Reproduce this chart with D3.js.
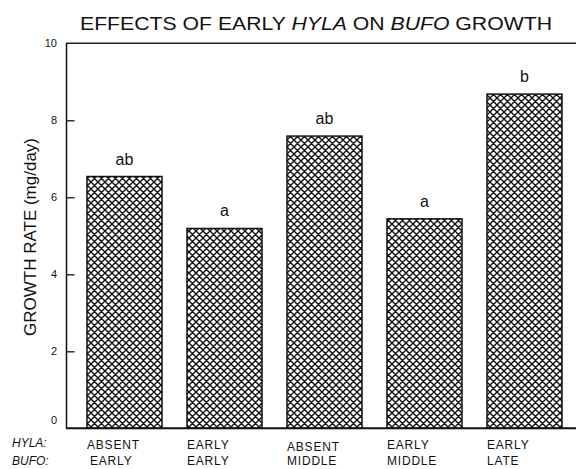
<!DOCTYPE html>
<html><head><meta charset="utf-8">
<script src="https://cdn.jsdelivr.net/npm/d3@7"></script>
<style>
body{margin:0;background:#fff;}
svg{display:block;}
text{font-family:"Liberation Sans",Arial,sans-serif;fill:#111;}
</style></head>
<body><svg id="c" width="576" height="469"></svg>
<script>
const hyla = ["ABSENT","EARLY","ABSENT","EARLY","EARLY"];
const bufo = ["EARLY","EARLY","MIDDLE","MIDDLE","LATE"];
const growth = [6.54, 5.19, 7.59, 5.44, 8.68];
const letters = ["ab","a","ab","a","b"];
const yTicks = [0,2,4,6,8,10];
const idx = d3.range(growth.length);

const svg = d3.select("#c");
const x = d3.scaleBand().domain(idx).range([74.5, 574.5]).paddingInner(0.25).paddingOuter(0.125);
const y = d3.scaleLinear().domain([0,10]).range([428.3, 43.3]);

const defs = svg.append("defs");
const pat = defs.append("pattern").attr("id","hatch").attr("patternUnits","userSpaceOnUse")
  .attr("width",7).attr("height",7);
pat.append("rect").attr("width",7).attr("height",7).attr("fill","#fff");
pat.append("path").attr("d","M0,0L7,7M7,0L0,7M-1,6L1,8M6,-1L8,1M-1,1L1,-1M6,8L8,6")
  .attr("stroke","#111").attr("stroke-width",1.4);

// title
const t = svg.append("text").attr("x",316).attr("y",30).attr("text-anchor","middle")
  .attr("font-size",18).attr("textLength",472).attr("lengthAdjust","spacingAndGlyphs");
t.append("tspan").text("EFFECTS OF EARLY ");
t.append("tspan").attr("font-style","italic").text("HYLA");
t.append("tspan").text(" ON  ");
t.append("tspan").attr("font-style","italic").text("BUFO");
t.append("tspan").text(" GROWTH");

// bars
svg.selectAll("rect.bar").data(idx).join("rect").attr("class","bar")
  .attr("x",i=>x(i)).attr("width",x.bandwidth())
  .attr("y",i=>y(growth[i])).attr("height",i=>y(0)-y(growth[i]))
  .attr("fill","url(#hatch)").attr("stroke","#111").attr("stroke-width",1.5);

// letters
svg.selectAll("text.let").data(idx).join("text").attr("class","let")
  .attr("x",i=>x(i)+x.bandwidth()/2).attr("y",i=>y(growth[i])-12)
  .attr("text-anchor","middle").attr("font-size",16).text(i=>letters[i]);

// axes frame
svg.append("line").attr("x1",66).attr("x2",576).attr("y1",y(10)).attr("y2",y(10))
  .attr("stroke","#222").attr("stroke-width",1.5);
svg.append("line").attr("x1",66).attr("x2",576).attr("y1",y(0)).attr("y2",y(0))
  .attr("stroke","#111").attr("stroke-width",2);

const yAxis = d3.axisRight(y).tickValues(yTicks.filter(v=>v>0 && v<10)).tickSize(8).tickFormat("");
const ga = svg.append("g").attr("transform","translate(66.5,0)").call(yAxis);
ga.select(".domain").attr("d",`M0,${y(10)}V${y(0)}`).attr("stroke","#111").attr("stroke-width",1.5);
ga.selectAll(".tick line").attr("stroke","#111").attr("stroke-width",1.3);

svg.selectAll("text.yt").data(yTicks).join("text").attr("class","yt")
  .attr("x",57).attr("y",d=>d===0?y(d)-4:y(d)+4).attr("text-anchor","end")
  .attr("font-size",11).text(d=>d);

// y label
svg.append("text").attr("transform","translate(36,237) rotate(-90)").attr("text-anchor","middle")
  .attr("font-size",17).text("GROWTH RATE (mg/day)");

// category labels
svg.append("text").attr("x",12).attr("y",447).attr("font-size",12).attr("font-style","italic").text("HYLA:");
svg.append("text").attr("x",12).attr("y",465).attr("font-size",12).attr("font-style","italic").text("BUFO:");
svg.selectAll("text.h").data(idx).join("text").attr("class","h")
  .attr("x",i=>x(i)).attr("y",i=>i===2?451:449).attr("font-size",12).attr("letter-spacing",0.8).text(i=>hyla[i]);
svg.selectAll("text.b").data(idx).join("text").attr("class","b")
  .attr("x",i=>x(i)+(i===0?3:0)).attr("y",465).attr("font-size",12).attr("letter-spacing",0.8).text(i=>bufo[i]);
</script></body></html>
